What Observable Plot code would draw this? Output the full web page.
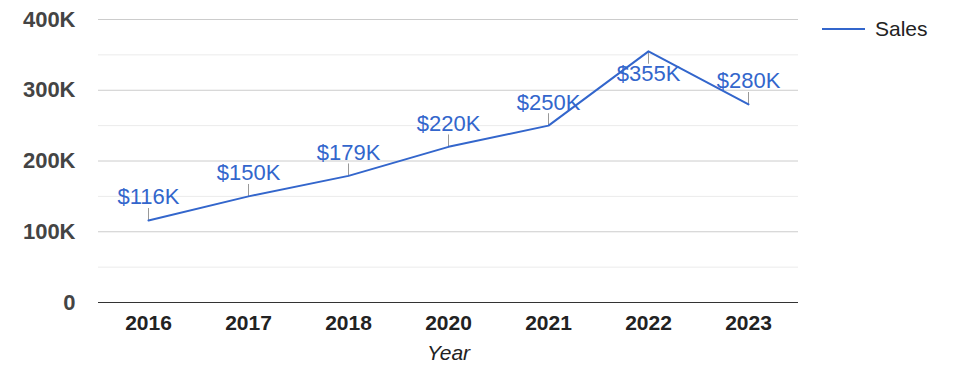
<!DOCTYPE html>
<html>
<head>
<meta charset="utf-8">
<script src="https://cdn.jsdelivr.net/npm/d3@7"></script>
<script src="https://cdn.jsdelivr.net/npm/@observablehq/plot@0.6"></script>
<style>
  html, body { margin: 0; padding: 0; background: #fff; }
  #wrap { position: relative; width: 975px; height: 378px; font-family: "Liberation Sans", Arial, sans-serif; }
  #legend { position: absolute; left: 822px; top: 17px; display: flex; align-items: center; font-size: 21px; color: #222; }
  #legend .sw { width: 43px; height: 2px; background: #3366cc; margin-right: 10px; }
</style>
</head>
<body>
<div id="wrap"><div id="legend"><span class="sw"></span><span>Sales</span></div></div>
<script>
const years = ["2016", "2017", "2018", "2020", "2021", "2022", "2023"];
const sales = [116000, 150000, 179000, 220000, 250000, 355000, 280000];
const majorTicks = [0, 100000, 200000, 300000, 400000];
const minorTicks = [50000, 150000, 250000, 350000];
const seriesName = "Sales";
const xTitle = "Year";

const yMax = 400000;
const data = years.map((y, i) => ({year: y, value: sales[i]}));
const fmt = v => v === 0 ? "0" : (v / 1000) + "K";
const lbl = v => "$" + (v / 1000) + "K";
// annotations that would run past the top of the chart area are flipped below the point
const flips = d => d.value > yMax * 0.82;
const above = data.filter(d => !flips(d));
const below = data.filter(flips);
const stem = {draw(context, l) { context.moveTo(0, 0); context.lineTo(0, -l); }};

const chart = Plot.plot({
  width: 975,
  height: 378,
  marginLeft: 98,
  marginRight: 177,
  marginTop: 19,
  marginBottom: 76,
  style: {fontFamily: "'Liberation Sans', Arial, sans-serif", background: "#fff", overflow: "visible"},
  x: {type: "point", domain: years, padding: 0.5, label: null},
  y: {domain: [0, yMax], label: null},
  marks: [
    Plot.ruleY(minorTicks, {stroke: "#ebebeb", strokeWidth: 1}),
    Plot.ruleY(majorTicks.filter(d => d > 0), {stroke: "#cccccc", strokeWidth: 1}),
    Plot.axisY({ticks: majorTicks, tickFormat: fmt, tickSize: 0, tickPadding: 23, fontSize: 22, fontWeight: "bold", fill: "#444", label: null}),
    Plot.axisX({tickSize: 0, tickPadding: 13, fontSize: 21, fontWeight: "bold", fill: "#222", label: null}),
    Plot.text([xTitle], {frameAnchor: "bottom", dy: 57, fontSize: 21, fontStyle: "italic", fill: "#222"}),
    Plot.vector(above, {x: "year", y: "value", length: 12, rotate: 0, anchor: "start", stroke: "#999", strokeWidth: 1, shape: stem}),
    Plot.vector(below, {x: "year", y: "value", length: 12, rotate: 180, anchor: "start", stroke: "#999", strokeWidth: 1, shape: stem}),
    Plot.line(data, {x: "year", y: "value", stroke: "#3366cc", strokeWidth: 2}),
    Plot.ruleY([0], {stroke: "#333", strokeWidth: 1}),
    Plot.text(above, {x: "year", y: "value", text: d => lbl(d.value), dy: -23, fontSize: 22, fill: "#3366cc"}),
    Plot.text(below, {x: "year", y: "value", text: d => lbl(d.value), dy: 23, fontSize: 22, fill: "#3366cc"})
  ]
});
document.getElementById("wrap").prepend(chart);
</script>
</body>
</html>
